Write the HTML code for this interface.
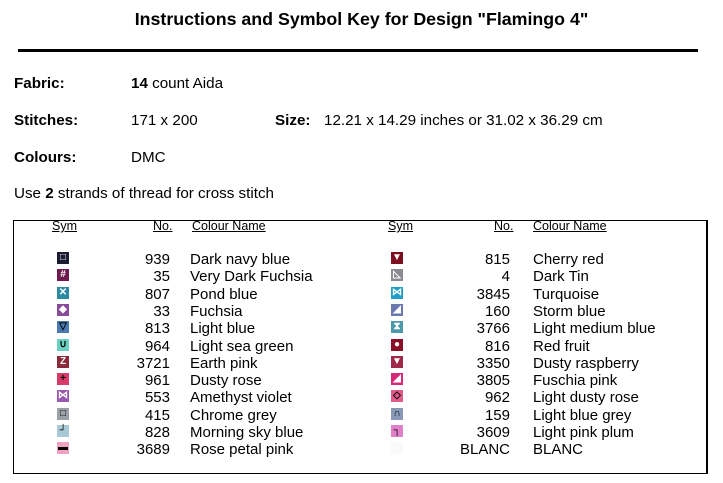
<!DOCTYPE html>
<html><head><meta charset="utf-8"><style>
body{margin:0;width:723px;height:483px;background:#fff;position:relative;font-family:"Liberation Sans",Arial,sans-serif;color:#000;overflow:hidden}
.a{position:absolute;white-space:nowrap}
.t{font-size:15.2px}
.c{font-size:15px;line-height:17px}
.s{position:absolute;width:12px;height:12px;color:#fff;font-size:10px;line-height:12px;text-align:center;font-weight:bold}
.h{font-size:12.5px;text-decoration:underline;position:absolute}
</style></head><body>
<div class="a" style="left:0;width:723px;text-align:center;top:9px;font-size:17.8px;font-weight:bold">Instructions and Symbol Key for Design "Flamingo 4"</div>
<div class="a" style="left:18px;top:49px;width:680px;height:3px;background:#000"></div>
<div class="a t" style="left:14px;top:75px;font-weight:bold">Fabric:</div>
<div class="a t" style="left:131px;top:75px"><b>14</b> count Aida</div>
<div class="a t" style="left:14px;top:112px;font-weight:bold">Stitches:</div>
<div class="a t" style="left:131px;top:112px">171 x 200</div>
<div class="a t" style="left:275px;top:112px;font-weight:bold">Size:</div>
<div class="a t" style="left:324px;top:112px">12.21 x 14.29 inches or 31.02 x 36.29 cm</div>
<div class="a t" style="left:14px;top:149px;font-weight:bold">Colours:</div>
<div class="a t" style="left:131px;top:149px">DMC</div>
<div class="a t" style="left:14px;top:185px">Use <b>2</b> strands of thread for cross stitch</div>
<div class="a" style="left:13px;top:220px;width:692px;height:252px;border:1px solid #000;border-right:2px solid #000"></div>
<div class="h" style="left:52px;top:219px">Sym</div>
<div class="h" style="left:153px;top:219px">No.</div>
<div class="h" style="left:192px;top:219px">Colour Name</div>
<div class="h" style="left:388px;top:219px">Sym</div>
<div class="h" style="left:494px;top:219px">No.</div>
<div class="h" style="left:533px;top:219px">Colour Name</div>
<div id="rows"></div>
<script>
var L=[["#1a1a33","□","939","Dark navy blue"],["#6e1a4e","#","35","Very Dark Fuchsia"],["#2e8aa0","✕","807","Pond blue"],["#8a4a9a","◆","33","Fuchsia"],["#4a7ab0","▽","813","Light blue"],["#6ad0c0","∪","964","Light sea green"],["#8a2a3a","Z","3721","Earth pink"],["#d83a6a","+","961","Dusty rose"],["#9a5ab0","⋈","553","Amethyst violet"],["#9aa0a8","□","415","Chrome grey"],["#a8c8d8","┘","828","Morning sky blue"],["#f0a0c0","▬","3689","Rose petal pink"]];
var R=[["#7a1020","▼","815","Cherry red"],["#8a8a90","◺","4","Dark Tin"],["#20a0c8","⋈","3845","Turquoise"],["#6a7ab0","◢","160","Storm blue"],["#4a98a8","⧗","3766","Light medium blue"],["#8a1028","●","816","Red fruit"],["#a02848","▼","3350","Dusty raspberry"],["#d82878","◢","3805","Fuschia pink"],["#e05a8a","◇","962","Light dusty rose"],["#8a98b8","∩","159","Light blue grey"],["#e080c8","┐","3609","Light pink plum"],["#fafafa","","BLANC","BLANC"]];
var h="";
function row(a,i,sx,nr,nx){var y=252+i*17.3;
var dark=(a[0]=="#a8c8d8"||a[0]=="#f0a0c0"||a[0]=="#6ad0c0"||a[0]=="#9aa0a8"||a[0]=="#8a98b8"||a[0]=="#e080c8"||a[0]=="#e05a8a"||a[0]=="#d83a6a"||a[0]=="#4a7ab0")?"#000":"#fff";
h+='<div class="s" style="left:'+sx+'px;top:'+y+'px;background:'+a[0]+';color:'+dark+'">'+a[1]+'</div>';
h+='<div class="a c" style="right:'+(723-nr)+'px;top:'+(y-1)+'px">'+a[2]+'</div>';
h+='<div class="a c" style="left:'+nx+'px;top:'+(y-1)+'px">'+a[3]+'</div>';}
L.forEach(function(a,i){row(a,i,57,170,190)});
R.forEach(function(a,i){row(a,i,391,510,533)});
document.getElementById("rows").innerHTML=h;
</script>
</body></html>
